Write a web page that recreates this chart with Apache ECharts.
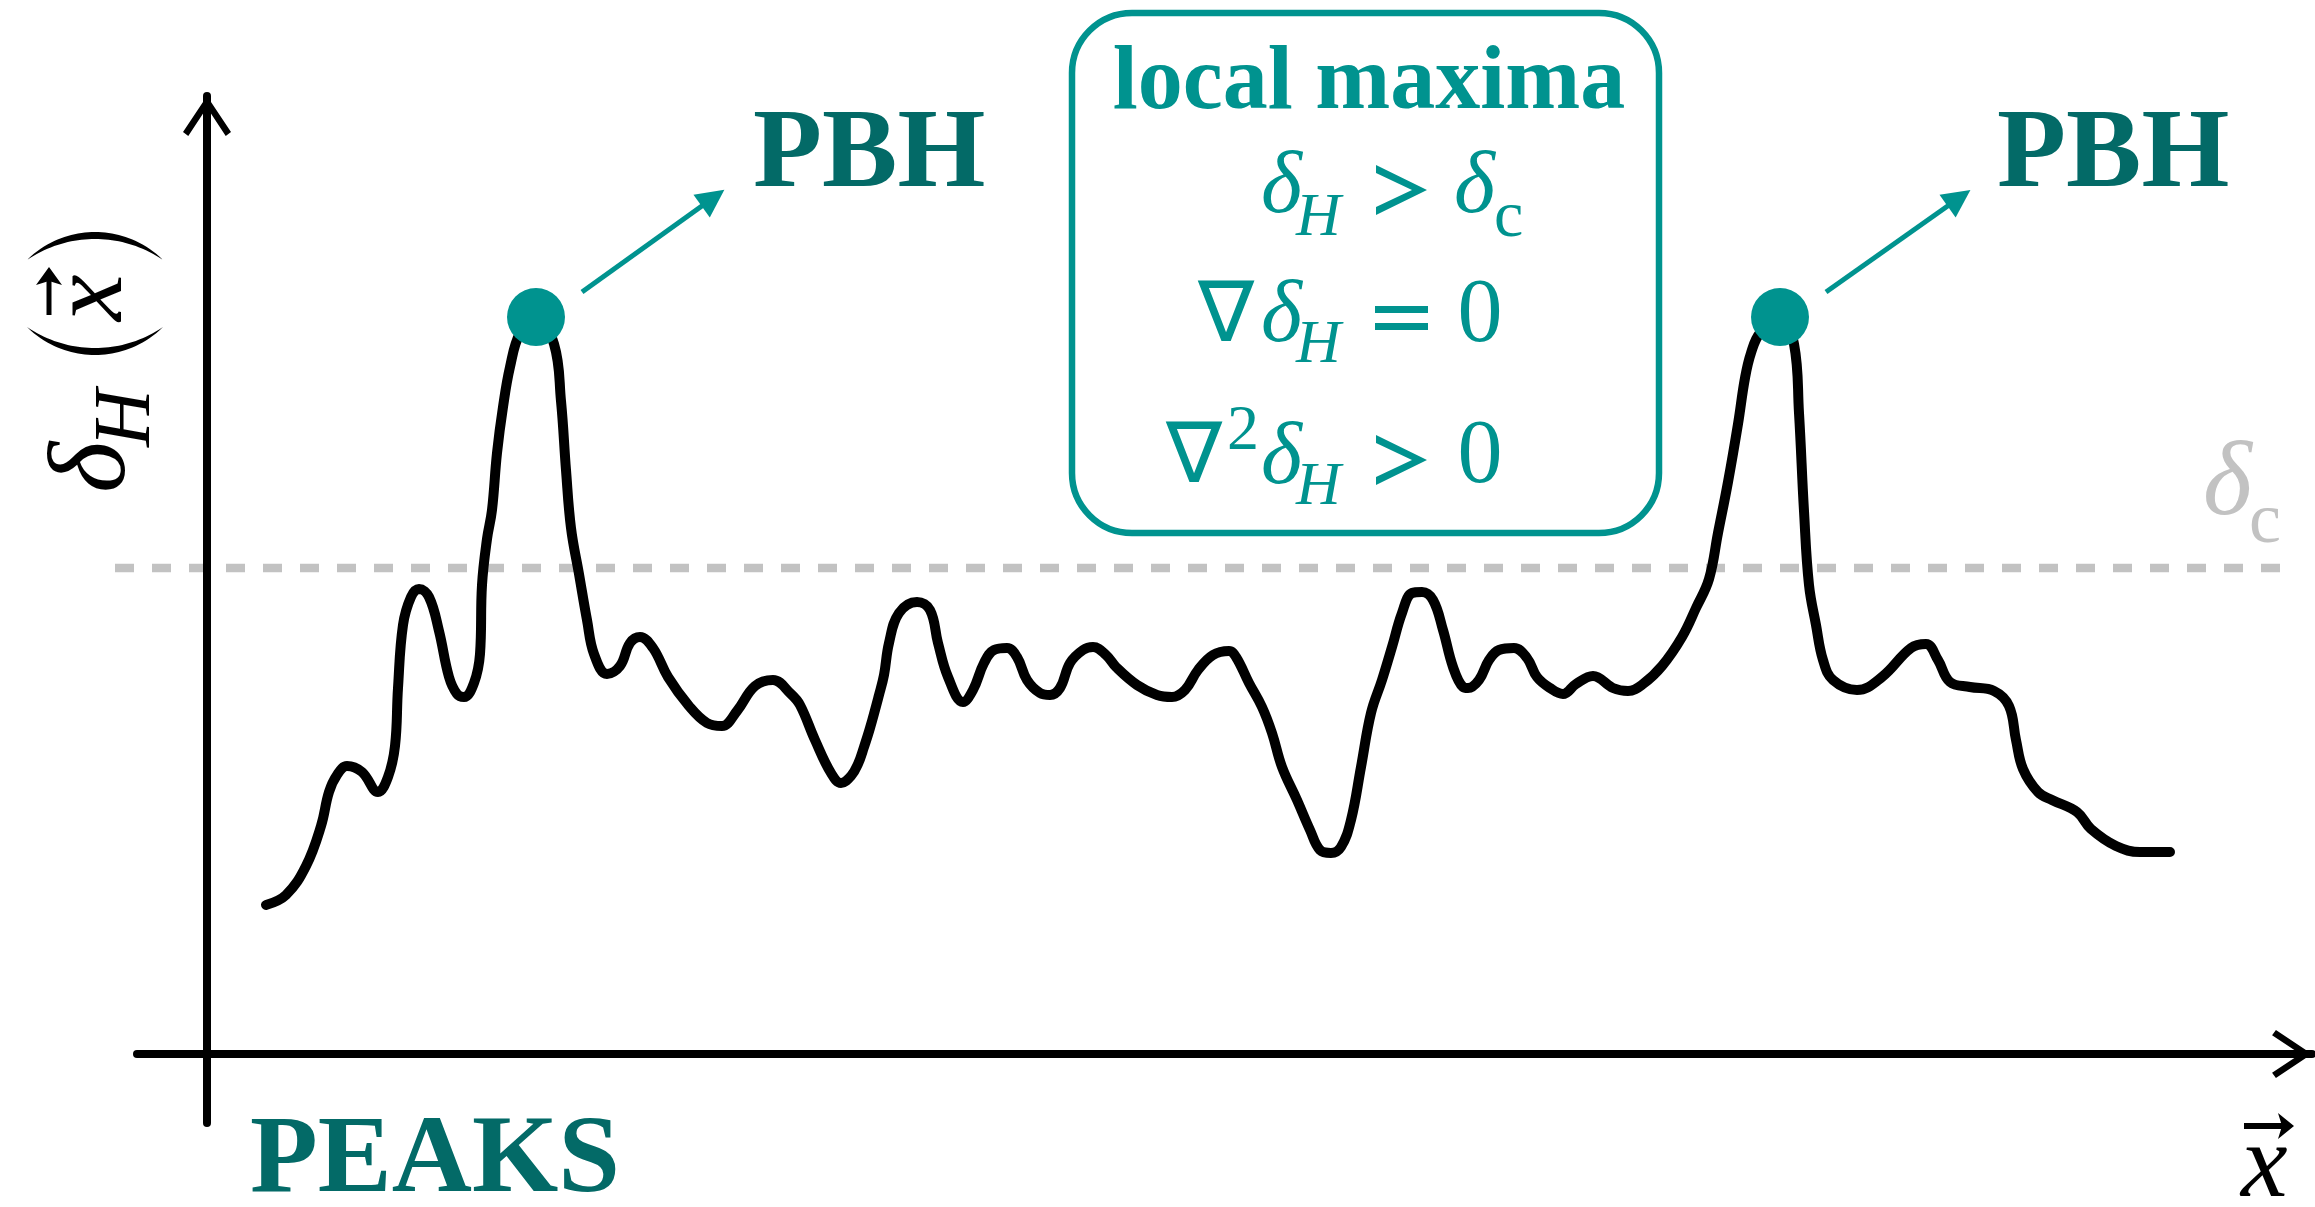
<!DOCTYPE html>
<html><head><meta charset="utf-8">
<script src="https://cdn.jsdelivr.net/npm/echarts@6/dist/echarts.min.js"></script>
<style>html,body{margin:0;padding:0;background:#fff}#c{width:2315px;height:1207px}</style>
</head><body><div id="c"></div>
<script>
// ---- data (arbitrary units) ----
const xPos = [0.59,0.79,0.99,1.14,1.22,1.30,1.40,1.55,1.71,1.81,1.88,1.91,1.96,2.04,2.12,2.22,2.32,2.42,2.50,2.57,2.67,2.73,2.75,2.80,2.85,2.90,2.96,3.03,3.13,3.29,3.47,3.54,3.59,3.64,3.72,3.80,3.87,4.00,4.13,4.23,4.33,4.46,4.61,4.82,5.00,5.15,5.30,5.48,5.66,5.84,5.93,6.08,6.24,6.34,6.44,6.51,6.57,6.63,6.72,6.77,6.82,6.92,7.10,7.23,7.31,7.41,7.56,7.66,7.77,7.87,8.00,8.10,8.20,8.33,8.43,8.53,8.63,8.76,8.86,8.99,9.09,9.30,9.50,9.65,9.78,9.91,10.06,10.22,10.29,10.42,10.55,10.65,10.75,10.90,11.03,11.13,11.24,11.34,11.44,11.54,11.64,11.75,11.85,11.95,12.05,12.15,12.26,12.36,12.46,12.56,12.61,12.72,12.82,12.92,13.07,13.20,13.30,13.43,13.56,13.69,13.86,14.06,14.21,14.36,14.55,14.75,14.89,15.02,15.11,15.21,15.31,15.38,15.44,15.53,15.73,15.87,15.92,15.97,16.02,16.09,16.16,16.26,16.50,16.75,17.04,17.19,17.31,17.43,17.63,17.87,18.02,18.09,18.16,18.31,18.45,18.70,18.84,19.09,19.33,19.63];
const deltaH = [1.49,1.59,1.88,2.28,2.62,2.79,2.88,2.82,2.62,2.77,3.08,3.66,4.29,4.57,4.65,4.57,4.23,3.77,3.60,3.57,3.71,4.00,4.69,5.15,5.44,6.01,6.47,6.87,7.21,7.37,7.10,6.53,5.84,5.26,4.80,4.34,4.00,3.80,3.88,4.11,4.17,4.06,3.77,3.48,3.31,3.28,3.43,3.68,3.74,3.60,3.49,3.14,2.81,2.71,2.78,2.90,3.07,3.26,3.59,3.79,4.11,4.41,4.52,4.44,4.11,3.77,3.52,3.64,3.91,4.04,4.06,3.97,3.74,3.61,3.59,3.66,3.91,4.04,4.07,3.99,3.87,3.69,3.59,3.57,3.64,3.84,3.99,4.03,3.97,3.71,3.47,3.21,2.87,2.54,2.24,2.04,2.01,2.07,2.34,2.87,3.41,3.74,4.07,4.41,4.61,4.62,4.54,4.24,3.87,3.67,3.66,3.74,3.94,4.04,4.06,3.96,3.77,3.66,3.60,3.70,3.78,3.66,3.63,3.70,3.88,4.17,4.46,4.75,5.21,5.72,6.30,6.76,7.01,7.21,7.37,7.10,6.41,5.43,4.69,4.29,3.94,3.74,3.64,3.77,4.06,4.10,3.94,3.72,3.67,3.63,3.48,3.14,2.85,2.62,2.54,2.42,2.25,2.08,2.02,2.02];
const deltaC = 4.86;                       // threshold
const thresholdRange = [-0.92, 20.75];     // extent of dashed threshold line
const arrowFrom = [[3.75, 7.62], [16.19, 7.62]];
const arrowTo = [[5.06, 8.56], [17.52, 8.56]];
const xRange = [-0.70, 21.05];
const yRange = [-0.69, 9.58];
const peakLabel = 'PBH';
const bottomLabel = 'PEAKS';
const boxTitle = 'local maxima';

// ---- styling ----
const TEAL = '#00938f', DARK = '#036a67', GREY = '#c2c2c2';
const SERIF = 'Liberation Serif';
const curve = xPos.map((x, i) => [x, deltaH[i]]);
const peaks = curve.filter((p, i) => i > 0 && i < curve.length - 1 && p[1] > deltaC && p[1] >= curve[i-1][1] && p[1] >= curve[i+1][1]);

const K = 0.275; // middle -> alphabetic baseline offset (em)
function txt(text, x, base, size, style, fill, align) {
  return { type: 'text', x: x, y: base - K * size, z: 50,
    style: { text: text, fontFamily: SERIF, fontSize: size, fontWeight: style === 'bold' ? 'bold' : 'normal',
      fontStyle: style === 'italic' ? 'italic' : 'normal', fill: fill,
      align: align || 'left', textAlign: align || 'left', verticalAlign: 'middle', textVerticalAlign: 'middle' } };
}
function poly(points, fill) { return { type: 'polygon', z: 50, shape: { points: points }, style: { fill: fill } }; }
function greater(x0, x1, yc, h, inner) {
  return poly([[x0, yc - h], [x1, yc], [x0, yc + h], [x0, yc + h - 8], [x1 - inner, yc], [x0, yc - h + 8]], TEAL);
}
// thin crescent used as a tall parenthesis (local frame: a = along text, b = across)
function crescent(aEnd, dir, sOut, sIn, b0, b1) {
  const half = (b1 - b0) / 2, bm = (b0 + b1) / 2, N = 40, pts = [];
  const R1 = (half * half + sOut * sOut) / (2 * sOut), R2 = (half * half + sIn * sIn) / (2 * sIn);
  for (let i = 0; i <= N; i++) { const b = b0 + (b1 - b0) * i / N; pts.push([aEnd + dir * (Math.sqrt(Math.max(0, R1 * R1 - (b - bm) * (b - bm))) - (R1 - sOut)), b]); }
  for (let i = N; i >= 0; i--) { const b = b0 + (b1 - b0) * i / N; pts.push([aEnd + dir * (Math.sqrt(Math.max(0, R2 * R2 - (b - bm) * (b - bm))) - (R2 - sIn)), b]); }
  return { type: 'polygon', shape: { points: pts }, style: { fill: '#000' } };
}
const chevron = 'path://M50,0 L100,75 L89,83 L50,24 L11,83 L0,75 Z';

const graphics = [
  { type: 'rect', z: 40, shape: { x: 1072, y: 13, width: 587, height: 520, r: 60 }, style: { fill: 'none', stroke: TEAL, lineWidth: 6.5 } },
  txt(peakLabel, 753, 188, 113, 'bold', DARK),
  txt(peakLabel, 1997, 188, 113, 'bold', DARK),
  txt(bottomLabel, 250, 1193, 111, 'bold', DARK),
  txt(boxTitle, 1369, 109, 90, 'bold', TEAL, 'center'),
  // line 1
  txt('δ', 1261, 213, 88, 'italic', TEAL),
  txt('H', 1296, 236, 62, 'italic', TEAL),
  greater(1376, 1427, 190, 25, 15),
  txt('δ', 1454, 213, 88, 'italic', TEAL),
  txt('c', 1494, 237, 66, '', TEAL),
  // line 2
  txt('∇', 1226, 342, 84, '', TEAL, 'center'),
  txt('δ', 1261, 342, 88, 'italic', TEAL),
  txt('H', 1296, 363, 62, 'italic', TEAL),
  { type: 'rect', z: 50, shape: { x: 1375, y: 306, width: 53, height: 7 }, style: { fill: TEAL } },
  { type: 'rect', z: 50, shape: { x: 1375, y: 323, width: 53, height: 7 }, style: { fill: TEAL } },
  txt('0', 1480, 342, 90, '', TEAL, 'center'),
  // line 3
  txt('∇', 1194, 483, 84, '', TEAL, 'center'),
  txt('2', 1243, 450, 64, '', TEAL, 'center'),
  txt('δ', 1261, 484, 88, 'italic', TEAL),
  txt('H', 1296, 505, 62, 'italic', TEAL),
  greater(1376, 1427, 460, 25, 15),
  txt('0', 1480, 483, 90, '', TEAL, 'center'),
  // threshold label
  txt('δ', 2203, 515, 105, 'italic', GREY),
  txt('c', 2249, 543, 72, '', GREY),
  // x-axis label
  txt('x', 2241, 1197, 105, 'italic', '#000'),
  { type: 'line', z: 50, shape: { x1: 2244, y1: 1126, x2: 2284, y2: 1126 }, style: { stroke: '#000', lineWidth: 6 } },
  poly([[2294, 1126], [2278, 1113], [2282, 1126], [2278, 1139]], '#000'),
  // y-axis label (rotated, reads bottom to top)
  { type: 'group', x: 122, y: 493, rotation: Math.PI / 2, z: 50, children: [
    txt('δ', 0, 3, 110, 'italic', '#000'),
    txt('H', 46, 28, 80, 'italic', '#000'),
    crescent(166, -1, 28, 21, -95, 41),
    txt('x', 172, 0, 105, 'italic', '#000'),
    { type: 'line', shape: { x1: 178, y1: -73, x2: 215, y2: -73 }, style: { stroke: '#000', lineWidth: 5 } },
    poly([[226, -73], [208, -86], [212, -73], [208, -60]], '#000'),
    crescent(233, 1, 28, 21, -95, 41)
  ] }
];

const axisCommon = {
  type: 'value', splitLine: { show: false }, axisTick: { show: false }, axisLabel: { show: false },
  axisLine: { show: true, onZero: true, lineStyle: { color: '#000', width: 8 },
    symbol: ['none', chevron], symbolSize: [48, 40], symbolOffset: [0, -20] }
};
const hidden = { type: 'value', show: false, gridIndex: 1, splitLine: { show: false } };

const chart = echarts.init(document.getElementById('c'), null, { renderer: 'canvas' });
chart.setOption({
  animation: false,
  backgroundColor: '#fff',
  grid: [
    { left: 137, right: 3, top: 96, bottom: 84, containLabel: false },
    { left: 115, right: 33, top: 96, bottom: 84, containLabel: false }
  ],
  xAxis: [Object.assign({}, axisCommon, { min: xRange[0], max: xRange[1], z: 3 }),
          Object.assign({}, hidden, { min: thresholdRange[0], max: thresholdRange[1] })],
  yAxis: [Object.assign({}, axisCommon, { min: yRange[0], max: yRange[1], z: 3 }),
          Object.assign({}, hidden, { min: yRange[0], max: yRange[1] })],
  graphic: { elements: graphics },
  series: [
    { type: 'line', name: 'threshold', xAxisIndex: 1, yAxisIndex: 1, data: thresholdRange.map(x => [x, deltaC]),
      showSymbol: false, silent: true, z: 1,
      lineStyle: { color: GREY, width: 8.5, type: [19, 18], cap: 'butt' } },
    { type: 'line', name: 'deltaH', data: curve, smooth: 0.4, showSymbol: false, z: 4,
      lineStyle: { color: '#000', width: 10, cap: 'round', join: 'round' } },
    { type: 'lines', coordinateSystem: 'cartesian2d', z: 4,
      data: arrowFrom.map((p, i) => ({ coords: [p, arrowTo[i]] })),
      symbol: ['none', 'triangle'], symbolSize: 28,
      lineStyle: { color: TEAL, width: 5, opacity: 1, curveness: 0 } },
    { type: 'scatter', data: peaks, symbolSize: 58, z: 5, itemStyle: { color: TEAL, opacity: 1 } }
  ]
});
</script></body></html>
